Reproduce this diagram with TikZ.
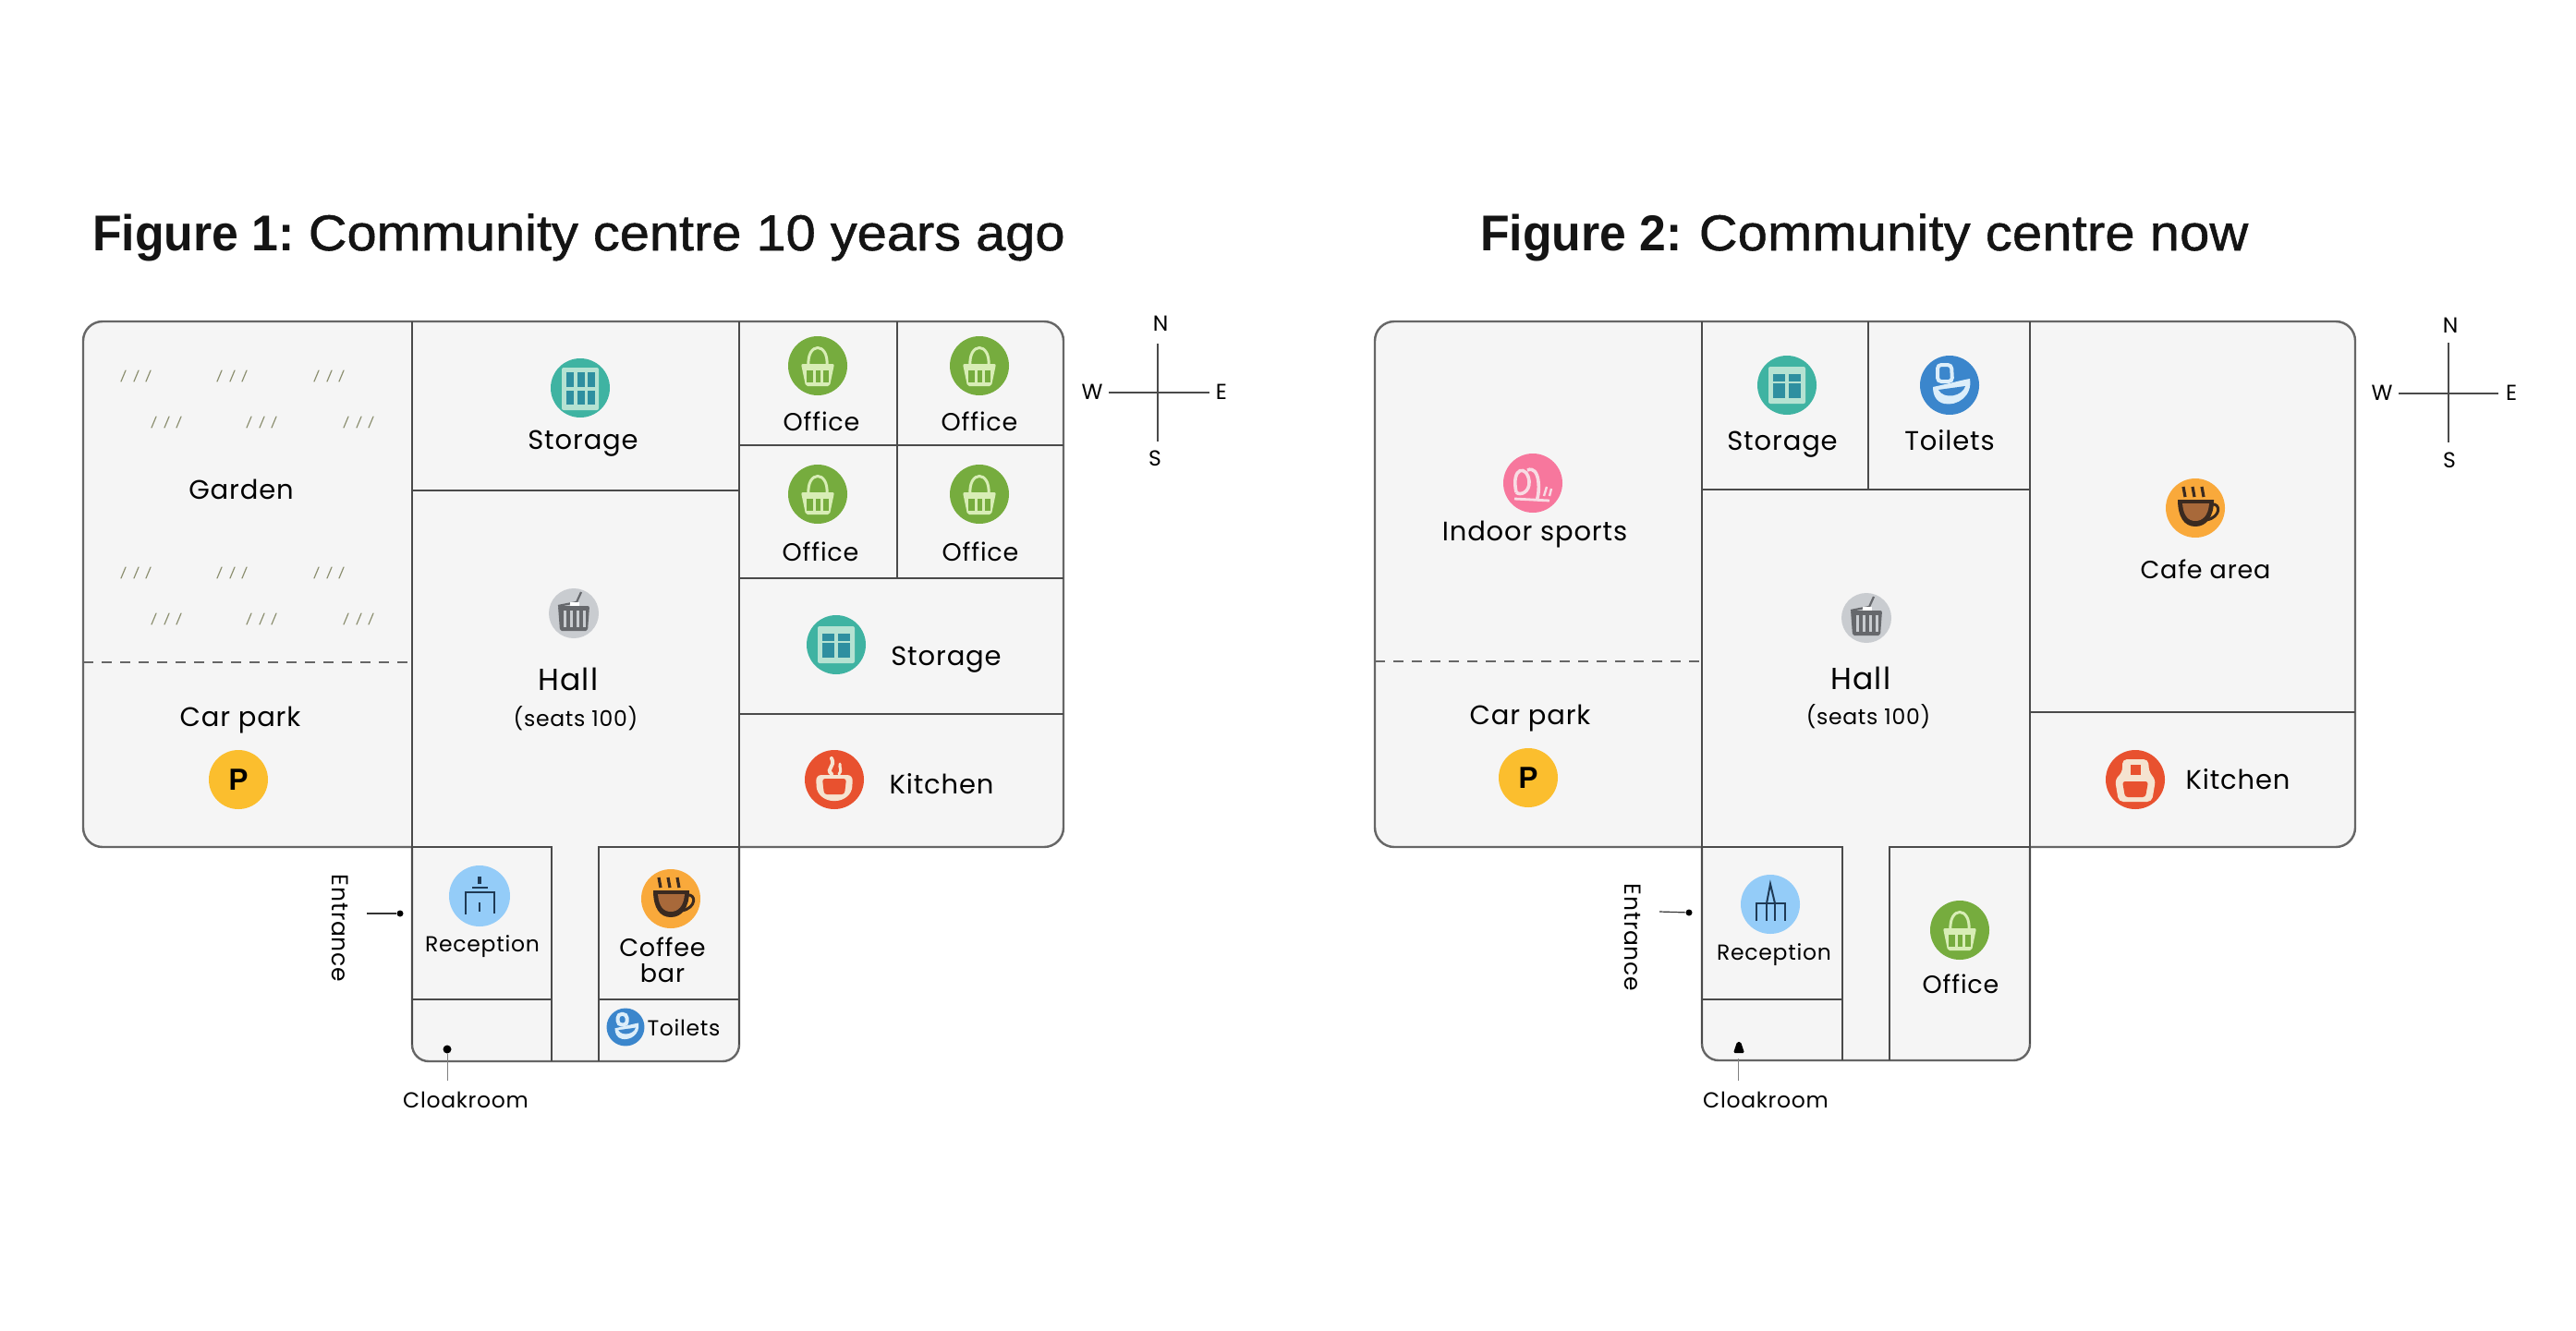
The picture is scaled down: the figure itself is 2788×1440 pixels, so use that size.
\documentclass[tikz,border=0pt]{standalone}
\usepackage{fontspec}
\setmainfont{Liberation Sans}
\newfontfamily\lblfont[LetterSpace=3]{Poppins}
\newfontfamily\ttlfont[FakeBold=1.0,FakeStretch=1.06]{Liberation Sans}
\newfontfamily\ttlbold[FakeStretch=0.95]{Liberation Sans}
\definecolor{floorc}{HTML}{F5F5F5}
\definecolor{wallc}{HTML}{4A4A4A}
\definecolor{outerc}{HTML}{666666}
\definecolor{grassc}{HTML}{8C8F70}
\definecolor{tealc}{HTML}{3FB3A2}
\definecolor{tealfr}{HTML}{B5E2D2}
\definecolor{tealdk}{HTML}{2E8FA0}
\definecolor{hallc}{HTML}{C9CCD0}
\definecolor{halldk}{HTML}{66686C}
\definecolor{greenc}{HTML}{76AC3E}
\definecolor{greenlt}{HTML}{D8EDB6}
\definecolor{orangec}{HTML}{F9A93B}
\definecolor{cupdk}{HTML}{3A2A20}
\definecolor{cupmd}{HTML}{A8693A}
\definecolor{redc}{HTML}{E8512F}
\definecolor{creamc}{HTML}{F5E3D0}
\definecolor{skyc}{HTML}{94CCF8}
\definecolor{navyc}{HTML}{1F3A55}
\definecolor{bluec}{HTML}{3B86CC}
\definecolor{bluelt}{HTML}{DCEEFA}
\definecolor{pinkc}{HTML}{F7779D}
\definecolor{pinklt}{HTML}{F8DCE4}
\definecolor{yelc}{HTML}{FBBE2E}
\newcommand{\ico}[4][]{\begin{scope}[shift={(#2,#3)},#1]\pic {#4};\end{scope}}
\tikzset{
  wall/.style={draw=outerc,line width=2.4pt,fill=floorc},
  part/.style={draw=wallc,line width=2.2pt},
  dashline/.style={draw=gray!80!black,line width=1.1pt,dash pattern=on 11pt off 9pt},
  lblL/.style={font=\lblfont\fontsize{29}{34}\selectfont,inner sep=0pt,text=black},
  lblH/.style={font=\lblfont\fontsize{33}{38}\selectfont,inner sep=0pt,text=black},
  lblM/.style={font=\lblfont\fontsize{27}{31}\selectfont,inner sep=0pt,text=black},
  lblS/.style={font=\lblfont\fontsize{23.5}{28}\selectfont,inner sep=0pt,text=black},
  lblE/.style={font=\lblfont\fontsize{25}{28}\selectfont,inner sep=0pt,text=black},
  comp/.style={draw=wallc,line width=1.6pt},
  lead/.style={draw=gray,line width=1pt},
  ldark/.style={draw=black!80,line width=1.2pt},
  ttl/.style={inner sep=0pt,anchor=base west,text=black!92},
  grass/.style={draw=grassc,line width=1.2pt,line cap=round},
  pics/tuft/.code={
    \draw[grass] (-16,6) -- (-11,-6);
    \draw[grass] (-2,6) -- (3,-6);
    \draw[grass] (11,6) -- (16,-6);
  },
  pics/winA/.code={
    \fill[tealc] (0,0) circle[radius=32];
    \fill[tealfr,rounded corners=2pt] (-20,-22) rectangle (20,24);
    \foreach \px in {-15,-3,8}{
      \fill[tealdk] (\px,-17) rectangle ++(8,16);
      \fill[tealdk] (\px,3) rectangle ++(8,15);
    }
  },
  pics/winB/.code={
    \fill[tealc] (0,0) circle[radius=32];
    \fill[tealfr,rounded corners=2pt] (-20,-20) rectangle (20,20);
    \fill[tealdk] (-15,-12) rectangle (-2,14);
    \fill[tealdk] (2,-12) rectangle (15,14);
    \fill[tealfr] (-16,-4) rectangle (16,-2);
  },
  pics/hallic/.code={
    \fill[hallc] (0,0) circle[radius=27];
    \draw[halldk,line width=2.2pt] (-17,-8) -- (3,-12) -- (8,-23);
    \fill[white] (-4,-12) rectangle (6,-6);
    \fill[halldk,rounded corners=2pt] (-17,-8) -- (17,-8) -- (15,19) -- (-15,19) -- cycle;
    \foreach \px in {-11,-4,3,10}{\fill[hallc] (\px,-3) rectangle ++(2.6,18);}
  },
  pics/bagic/.code={
    \fill[greenc] (0,0) circle[radius=32];
    \draw[greenlt,line width=3pt] (-10,0) .. controls (-12,-26) and (12,-26) .. (10,0);
    \fill[greenlt,rounded corners=2pt] (-18,-2) -- (18,-2) -- (13,22) -- (-13,22) -- cycle;
    \fill[greenc] (-12,5) rectangle (-5,18);
    \fill[greenc] (-2,5) rectangle (3,18);
    \fill[greenc] (6,5) rectangle (12,18);
  },
  pics/cupic/.code={
    \fill[orangec] (0,0) circle[radius=32];
    \foreach \px in {-13,-3,7}{\draw[cupdk,line width=3.2pt] (\px,-23) -- (\px+2,-12);}
    \draw[cupdk,line width=3pt] (17,-4) .. controls (28,-6) and (28,10) .. (12,13);
    \fill[cupdk] (-19,-9) -- (20,-9) .. controls (20,10) and (12,20) .. (0,20) .. controls (-12,20) and (-19,10) .. (-19,-9) -- cycle;
    \fill[cupmd] (-14,-5) -- (15,-5) .. controls (14,8) and (8,14) .. (0,14) .. controls (-8,14) and (-13,8) .. (-14,-5) -- cycle;
  },
  pics/cookA/.code={
    \fill[redc] (0,0) circle[radius=32];
    \fill[creamc,rounded corners=6pt] (-20,-5) -- (20,-5) -- (19,14) -- (8,23) -- (-8,23) -- (-19,14) -- cycle;
    \fill[redc,rounded corners=3pt] (-13,-1) -- (13,-1) -- (11,16) -- (-11,16) -- cycle;
    \draw[creamc,line width=4pt,line cap=round] (-3,-6) .. controls (-10,-12) and (2,-14) .. (-3,-23);
    \draw[creamc,line width=3pt,line cap=round] (5,-6) .. controls (9,-10) and (5,-13) .. (6,-17);
  },
  pics/cookB/.code={
    \fill[redc] (0,0) circle[radius=32];
    \fill[creamc,rounded corners=5pt] (-14,-22) -- (14,-22) -- (15,-8) -- (22,0) -- (18,24) -- (-18,24) -- (-22,0) -- (-14,-8) -- cycle;
    \fill[redc] (-5,-16) rectangle (6,-5);
    \fill[redc,rounded corners=3pt] (-14,2) -- (14,2) -- (11,19) -- (-11,19) -- cycle;
  },
  pics/deskA/.code={
    \fill[skyc] (0,0) circle[radius=33];
    \draw[navyc,line width=2.6pt] (-15,20) -- (-15,-4) -- (16,-4) -- (16,19);
    \draw[navyc,line width=2.6pt] (-8,-9) -- (9,-9);
    \draw[navyc,line width=3.4pt] (0,-13) -- (0,-21);
    \draw[navyc,line width=1.4pt] (0,7) -- (0,17);
  },
  pics/deskB/.code={
    \fill[skyc] (0,0) circle[radius=32];
    \draw[navyc,line width=2.6pt] (-15,18) -- (-15,-1) -- (16,-1) -- (16,18);
    \draw[navyc,line width=2pt] (-4,-1) -- (0,-22) -- (5,-1);
    \draw[navyc,line width=1.2pt] (-4,0) -- (-4,18);
    \draw[navyc,line width=1.2pt] (5,0) -- (5,18);
  },
  pics/loo/.code={
    \fill[bluec] (0,0) circle[radius=32];
    \draw[bluelt,line width=4pt,rounded corners=4pt] (-13,-22) -- (2,-22) -- (3,-4) -- (-13,-4) -- cycle;
    \fill[bluelt] (-18,2) -- (0,-2) .. controls (8,-4) and (16,-6) .. (22,-7) .. controls (25,12) and (8,23) .. (-6,20) .. controls (-15,18) and (-18,10) .. (-18,2) -- cycle;
    \fill[bluec] (-12,5) -- (17,1) .. controls (14,12) and (-6,16) .. (-12,5) -- cycle;
  },
  pics/sport/.code={
    \fill[pinkc] (0,0) circle[radius=32];
    \draw[pinklt,line width=3.6pt] (-18,10) .. controls (-24,-18) and (-6,-20) .. (-4,-2) .. controls (-3,10) and (-14,14) .. (-18,10);
    \draw[pinklt,line width=3.6pt] (-6,-14) .. controls (8,-20) and (8,10) .. (4,19);
    \draw[pinklt,line width=2.8pt] (-20,17) -- (18,19);
    \draw[pinklt,line width=2.4pt] (12,14) -- (15,4);
    \draw[pinklt,line width=2.4pt] (18,14) -- (20,6);
  },
  pin/.style={circle,fill=yelc,minimum size=64pt,inner sep=0pt,font=\ttlbold\bfseries\fontsize{33}{34}\selectfont,text=black},
}
\begin{document}
\begin{tikzpicture}[x=1pt,y=-1pt]
\useasboundingbox (0,0) rectangle (2788,1440);
\fill[white] (0,0) rectangle (2788,1440);

% ---- Titles
\node[ttl] (t1) at (100,271) {\fontsize{54.5}{60}\selectfont{\ttlbold\bfseries Figure 1:}\hspace{15pt}{\ttlfont Community centre 10 years ago}};
\node[ttl] (t2) at (1602,271) {\fontsize{54.5}{60}\selectfont{\ttlbold\bfseries Figure 2:}\hspace{18pt}{\ttlfont\addfontfeature{LetterSpace=0.4} Community centre now}};

% ---- Figure 1 plan
\path[wall] (446,917) [rounded corners=21pt] -- (90,917) -- (90,348) -- (1151,348) -- (1151,917) [sharp corners] -- (800,917) [rounded corners=18pt] -- (800,1149) -- (446,1149) [sharp corners] -- cycle;
\draw[part] (446,348) -- (446,1131);
\draw[part] (800,348) -- (800,1131);
\draw[part] (446,531) -- (800,531);
\draw[part] (800,482) -- (1151,482);
\draw[part] (800,626) -- (1151,626);
\draw[part] (800,773) -- (1151,773);
\draw[part] (971,348) -- (971,626);
\draw[dashline] (90,717) -- (446,717);
\draw[part] (446,917) -- (597,917) -- (597,1149);
\draw[part] (800,917) -- (648,917) -- (648,1149);
\draw[part] (446,1082) -- (597,1082);
\draw[part] (648,1082) -- (800,1082);

% grass
\foreach \gx in {147,251,356}{\ico{\gx}{407}{tuft} \ico{\gx}{620}{tuft}}
\foreach \gx in {180,283,388}{\ico{\gx}{457}{tuft} \ico{\gx}{670}{tuft}}

% icons and labels, figure 1
\node[lblL] (a1) at (261,530) {Garden};
\ico{628}{420}{winA}
\node[lblL] (a2) at (631,480) {Storage};
\ico{621}{664}{hallic}
\node[lblH] (a3) at (615,735) {Hall};
\node[lblS] (a4) at (623,778) {(seats 100)};
\node[lblL] (a5) at (260,780) {Car park};
\node[pin] (a6) at (258,844) {P};
\ico{885}{396}{bagic}
\ico{1060}{396}{bagic}
\ico{885}{535}{bagic}
\ico{1060}{535}{bagic}
\node[lblM] (a7) at (889,456) {Office};
\node[lblM] (a8) at (1060,456) {Office};
\node[lblM] (a9) at (888,597) {Office};
\node[lblM] (a10) at (1061,597) {Office};
\ico{905}{698}{winB}
\node[lblL] (a11) at (1024,714) {Storage};
\ico{903}{844}{cookA}
\node[lblL] (a12) at (1019,849) {Kitchen};
\ico{519}{970}{deskA}
\node[lblS] (a13) at (522,1025) {Reception};
\ico{726}{973}{cupic}
\node[lblM] (a14) at (717,1025) {Coffee};
\node[lblM] (a15) at (717,1054) {bar};
\ico[scale=0.64]{677}{1112}{loo}
\node[lblS] (a16) at (740,1113) {Toilets};
\node[lblE,rotate=-90] (a17) at (368,1005) {Entrance};
\coordinate (e1a) at (397,989);
\node[circle,fill=black,inner sep=0pt,minimum size=7pt] (e1b) at (433,989) {};
\draw[ldark] (e1a) -- (e1b);
\node[circle,fill=black,inner sep=0pt,minimum size=9pt] (c1a) at (484,1136) {};
\node[lblS] (c1b) at (504,1191) {Cloakroom};
\coordinate (c1c) at (484,1170);
\draw[lead] (c1a) -- (c1c);

% compass 1
\coordinate (cn1) at (1253,372);
\coordinate (cs1) at (1253,478);
\coordinate (cw1) at (1200,425);
\coordinate (ce1) at (1309,425);
\draw[comp] (cn1) -- (cs1);
\draw[comp] (cw1) -- (ce1);
\node[lblS] (n1) at (1256,350) {N};
\node[lblS] (s1) at (1250,496) {S};
\node[lblS] (w1) at (1182,424) {W};
\node[lblS] (e1) at (1322,424) {E};

% ---- Figure 2 plan
\path[wall] (1842,917) [rounded corners=21pt] -- (1488,917) -- (1488,348) -- (2549,348) -- (2549,917) [sharp corners] -- (2197,917) [rounded corners=18pt] -- (2197,1148) -- (1842,1148) [sharp corners] -- cycle;
\draw[part] (1842,348) -- (1842,1130);
\draw[part] (2197,348) -- (2197,1130);
\draw[part] (1842,530) -- (2197,530);
\draw[part] (2022,348) -- (2022,530);
\draw[part] (2197,771) -- (2549,771);
\draw[dashline] (1488,716) -- (1842,716);
\draw[part] (1842,917) -- (1994,917) -- (1994,1148);
\draw[part] (2197,917) -- (2045,917) -- (2045,1148);
\draw[part] (1842,1082) -- (1994,1082);

\ico{1659}{523}{sport}
\node[lblL] (b1) at (1661,579) {Indoor sports};
\ico{1934}{417}{winB}
\node[lblL] (b2) at (1929,481) {Storage};
\ico{2110}{417}{loo}
\node[lblL] (b3) at (2110,477) {Toilets};
\ico{2020}{669}{hallic}
\node[lblH] (b4) at (2014,734) {Hall};
\node[lblS] (b5) at (2022,776) {(seats 100)};
\node[lblL] (b6) at (1656,778) {Car park};
\node[pin] (b7) at (1654,842) {P};
\ico{2376}{550}{cupic}
\node[lblM] (b8) at (2387,616) {Cafe area};
\ico{2311}{844}{cookB}
\node[lblL] (b9) at (2422,844) {Kitchen};
\ico{1916}{979}{deskB}
\node[lblS] (b10) at (1920,1034) {Reception};
\ico{2121}{1007}{bagic}
\node[lblM] (b11) at (2122,1065) {Office};
\node[lblE,rotate=-90] (b12) at (1767,1015) {Entrance};
\coordinate (e2a) at (1796,987);
\node[circle,fill=black,inner sep=0pt,minimum size=7pt] (e2b) at (1828,988) {};
\draw[ldark] (e2a) -- (e2b);
\coordinate (c2a) at (1881,1146);
\fill[black,rounded corners=1.5pt] (1876,1140) -- (1880,1128) -- (1884,1128) -- (1888,1140) -- cycle;
\coordinate (c2c) at (1881,1170);
\draw[lead] (c2a) -- (c2c);
\node[lblS] (c2b) at (1911,1191) {Cloakroom};

% compass 2
\coordinate (cn2) at (2650,371);
\coordinate (cs2) at (2650,479);
\coordinate (cw2) at (2596,426);
\coordinate (ce2) at (2704,426);
\draw[comp] (cn2) -- (cs2);
\draw[comp] (cw2) -- (ce2);
\node[lblS] (n2) at (2652,352) {N};
\node[lblS] (s2) at (2651,498) {S};
\node[lblS] (w2) at (2578,425) {W};
\node[lblS] (e2) at (2718,425) {E};
\end{tikzpicture}
\end{document}
